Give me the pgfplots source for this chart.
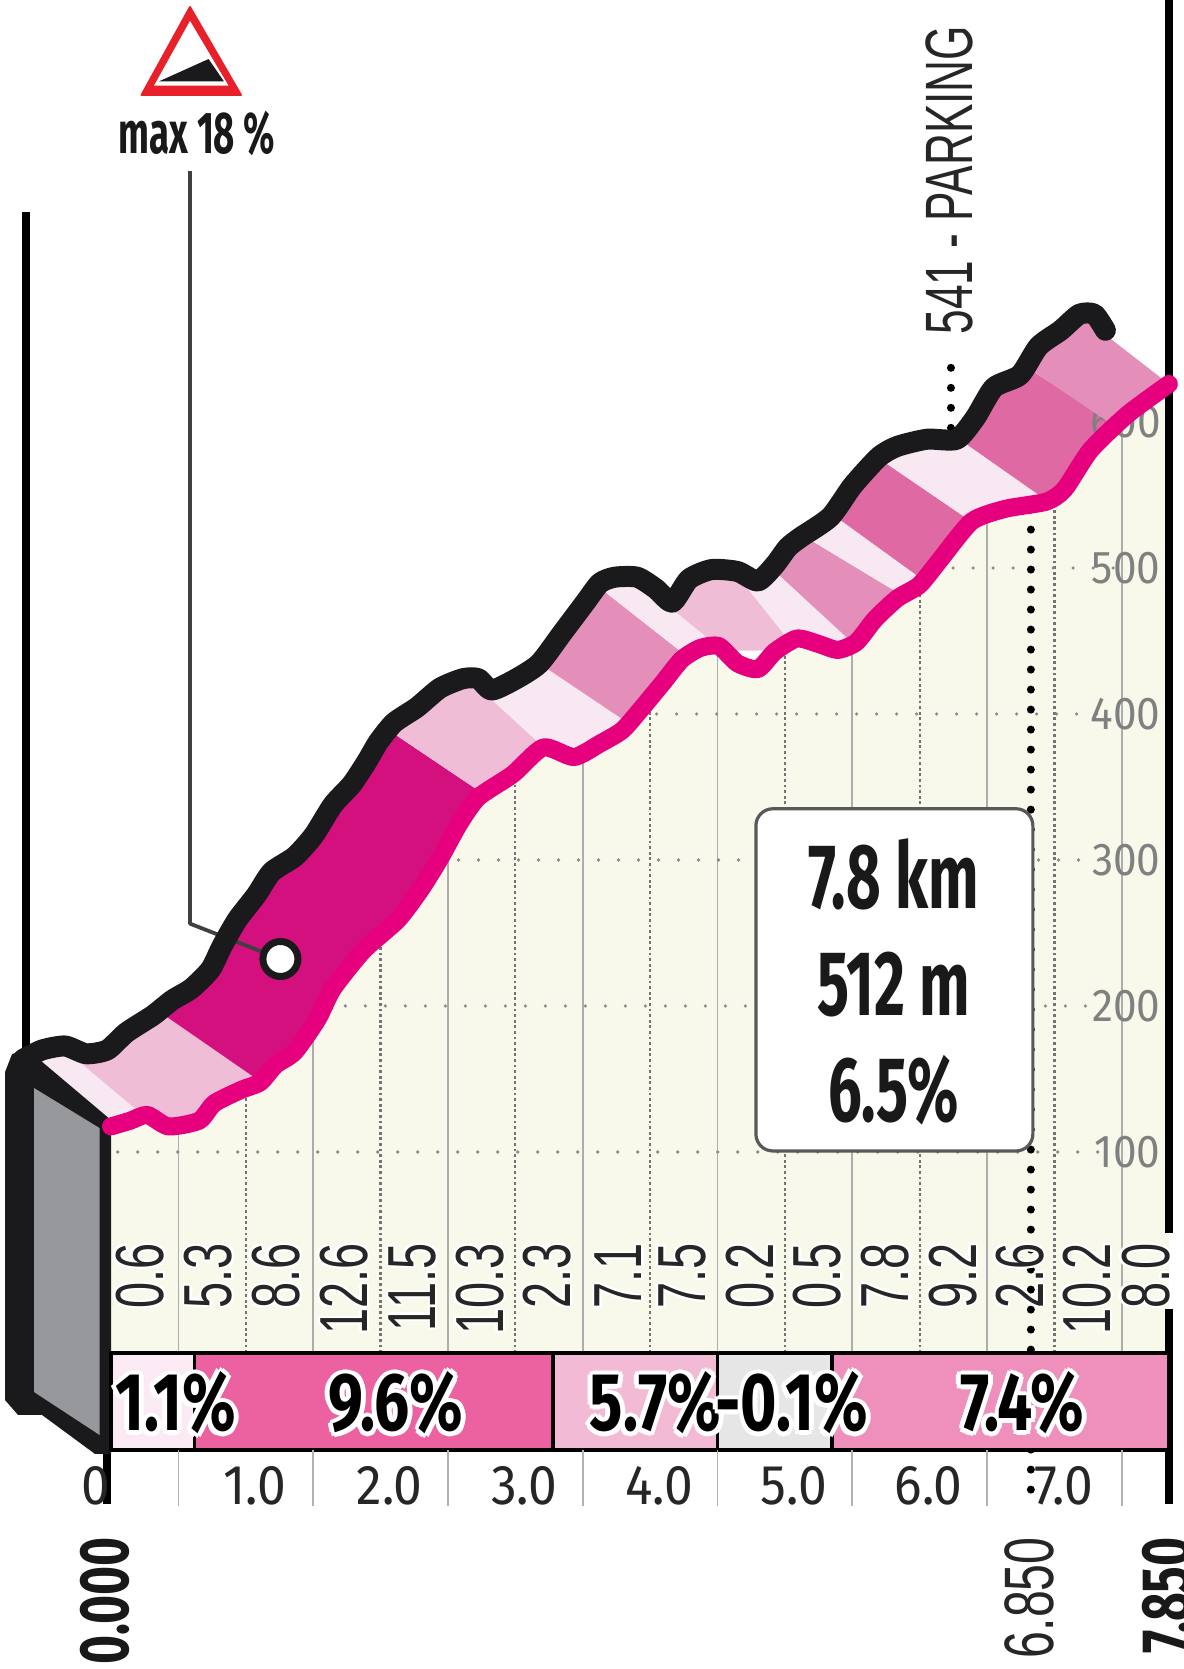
\documentclass[border=0pt]{standalone}
\usepackage{pgfplots}
\usepackage{pgfplotstable}
\usepackage{fontspec}
\pgfplotsset{compat=1.18}
\setmainfont{Fira Sans}
\newfontfamily\cond[FakeStretch=0.65]{Fira Sans}
\newfontfamily\condn[FakeStretch=0.62]{Fira Sans}
\newfontfamily\condw[FakeStretch=0.76]{Fira Sans}
\newfontfamily\condm[FakeStretch=0.71]{Fira Sans}
\newfontfamily\tickf[FakeStretch=0.92]{Fira Sans}
\newfontfamily\narrowf[FakeStretch=0.69]{Liberation Sans}
\newfontfamily\parkf[FakeStretch=0.66]{Liberation Sans}
\definecolor{cream}{HTML}{F8F9EA}
\definecolor{wp}{HTML}{F8E8F2}
\definecolor{lp}{HTML}{F0BDD6}
\definecolor{mp}{HTML}{E48FBA}
\definecolor{dp}{HTML}{DF6AA3}
\definecolor{vp}{HTML}{D4107F}
\definecolor{pinkline}{HTML}{E6007E}
\definecolor{blackline}{HTML}{1A1A1C}
\definecolor{greyq}{HTML}{97989C}
\definecolor{barA}{HTML}{FBE9F3}
\definecolor{barB}{HTML}{EC619F}
\definecolor{barC}{HTML}{F3BAD6}
\definecolor{barD}{HTML}{E6E6E6}
\definecolor{barE}{HTML}{EF8FBB}
\definecolor{redtri}{HTML}{E8202A}
\pgfplotstableread{
km m
0 117.5
0.142 121.4
0.269 125.4
0.426 117.5
0.653 121.4
0.766 133.3
0.965 142.5
1.107 147.7
1.220 159.5
1.363 168.6
1.533 191.0
1.647 211.9
1.874 238.1
2.129 259.1
2.300 280.1
2.441 301.0
2.583 324.7
2.725 342.9
2.981 358.7
3.208 377.1
3.435 370.5
3.628 379.7
3.793 388.8
3.931 403.2
4.096 421.6
4.234 437.3
4.372 445.2
4.510 446.5
4.648 434.7
4.800 430.8
4.924 442.6
5.090 451.7
5.255 447.8
5.393 443.9
5.530 449.1
5.668 464.9
5.834 479.2
5.999 488.4
6.150 505.5
6.386 531.9
6.634 540.5
6.938 545.4
7.075 554.0
7.268 580.8
7.544 605.3
7.849 626.0
}\front
\pgfplotstableread{
km m
-0.653 163.4
-0.511 169.9
-0.341 172.6
-0.185 167.3
-0.028 169.9
0.114 181.8
0.312 193.6
0.454 204.0
0.596 211.9
0.738 225.0
0.823 240.8
0.937 259.1
1.079 276.1
1.192 291.8
1.363 302.3
1.504 316.8
1.646 337.7
1.789 352.1
1.902 368
1.985 381.0
2.101 394.1
2.271 404.6
2.441 417.7
2.612 424.2
2.725 424.2
2.825 416.4
3.009 424.2
3.179 434.7
3.350 455.7
3.520 476.6
3.628 489.7
3.738 493.7
3.904 493.7
4.042 485.8
4.165 476.6
4.289 492.4
4.455 498.9
4.648 497.6
4.800 491.1
4.924 502
5.021 514
5.117 521
5.337 535
5.503 556.4
5.697 576.0
5.834 583.3
6.055 588.2
6.275 588.2
6.413 602.9
6.551 623.6
6.744 632.2
6.882 651.8
7.047 662.8
7.185 673.8
7.296 673.8
7.378 662.8
}\back
\newcommand{\band}[9]{\addplot[fill=#1,draw=none,forget plot] coordinates {(#2,#3)(#4,#5)(#6,#7)(#8,#9)} -- cycle;}
\newcommand{\halo}[4]{%
\node[#1,white,xshift=#3,yshift=0pt] at (#2) {#4};
\node[#1,white,xshift=-#3,yshift=0pt] at (#2) {#4};
\node[#1,white,xshift=0pt,yshift=#3] at (#2) {#4};
\node[#1,white,xshift=0pt,yshift=-#3] at (#2) {#4};
\node[#1,white,xshift=0.7*#3,yshift=0.7*#3] at (#2) {#4};
\node[#1,white,xshift=-0.7*#3,yshift=0.7*#3] at (#2) {#4};
\node[#1,white,xshift=0.7*#3,yshift=-0.7*#3] at (#2) {#4};
\node[#1,white,xshift=-0.7*#3,yshift=-0.7*#3] at (#2) {#4};
\node[#1] at (#2) {#4};}
\newcommand{\seg}[2]{\halo{rotate=90,anchor=east,inner sep=0pt,text=black!85,font=\narrowf\fontsize{34}{34}\selectfont}{axis cs:#1,37.7}{1.2pt}{#2}}
\newcommand{\barlab}[2]{\halo{anchor=center,inner sep=0pt,font=\condw\bfseries\fontsize{41}{41}\selectfont}{axis cs:#1,-71.9}{2.4pt}{#2}}
\begin{document}
\begin{tikzpicture}
\path[use as bounding box] (0,0) rectangle (591.5pt,834.5pt);
\begin{axis}[
  at={(55.5pt,109.5pt)},anchor=south west,
  scale only axis,width=529pt,height=725pt,
  xmin=0,xmax=7.85,ymin=-104.11,ymax=889.04,
  clip=false,
  axis on top=true,
  axis line style={draw=none},
  xtick={1,2,3,4,5,6,7},
  minor xtick={0.5,1.5,2.5,3.5,4.5,5.5,6.5,7.5},
  xticklabels={1.0,2.0,3.0,4.0,5.0,6.0,7.0},
  xtick pos=bottom,tick align=outside,
  major tick length=0pt,minor tick length=28pt,
  minor x tick style={draw=black!30,line width=0.8pt},
  xticklabel style={anchor=center,xshift=4.5pt,yshift=-18pt,font=\tickf\fontsize{28}{28}\selectfont,text=black!85},
  ytick={100,200,300,400,500},
  yticklabel pos=right,
  ytick style={draw=none},
  yticklabel style={anchor=east,xshift=-0.8pt,font=\tickf\fontsize{23}{23}\selectfont,text=black!50},
  /pgf/number format/assume math mode=true,
]
% gradient bands of the ribbon (overflow is masked below)
\band{wp}{-0.809}{174.7}{-0.356}{171.2}{0.386}{113.7}{0.185}{104.8}
\band{lp}{-0.356}{171.2}{0.326}{198.2}{1.150}{145.6}{0.386}{113.7}
\band{vp}{0.326}{198.2}{1.981}{393.8}{2.864}{339.0}{1.150}{145.6}
\band{lp}{1.981}{393.8}{2.641}{425.3}{3.323}{367.8}{2.864}{339.0}
\band{wp}{2.641}{425.3}{3.108}{439.0}{3.924}{388.4}{3.323}{367.8}
\band{mp}{3.108}{439.0}{3.590}{489.0}{4.384}{431.5}{3.924}{388.4}
\band{wp}{3.590}{489.0}{3.924}{489.7}{4.547}{443.2}{4.384}{431.5}
\band{lp}{3.924}{489.7}{4.644}{495.2}{5.089}{443.8}{4.547}{443.2}
\band{wp}{4.644}{495.2}{4.844}{504.8}{5.616}{439.0}{5.089}{443.8}
\band{mp}{4.844}{504.8}{5.067}{526.0}{5.927}{478.1}{5.616}{439.0}
\band{wp}{5.067}{526.0}{5.267}{542.5}{6.098}{487.0}{5.927}{478.1}
\band{dp}{5.267}{542.5}{5.682}{576.0}{6.476}{526.0}{6.098}{487.0}
\band{wp}{5.682}{576.0}{6.239}{591.8}{7.033}{540.4}{6.476}{526.0}
\band{dp}{6.239}{591.8}{6.736}{640.8}{7.530}{593.8}{7.033}{540.4}
% masks
\addplot[fill=white,draw=none,forget plot] table[x=km,y=m] {\back} -- (axis cs:7.419,656.8) -- (axis cs:7.849,628) -- (axis cs:7.9525,628) -- (axis cs:7.9525,889) -- (axis cs:-0.8234,889) -- (axis cs:-0.8234,163.4) -- cycle;
\addplot[fill=cream,draw=none,forget plot] table[x=km,y=m] {\front} -- (axis cs:7.849,-37.7) -- (axis cs:0,-37.7) -- cycle;
% grid: half-km solid
\addplot[black!32,line width=0.8pt,forget plot] coordinates {(0.5,-37.7)(0.5,119)};
\addplot[black!32,line width=0.8pt,forget plot] coordinates {(1.5,-37.7)(1.5,187)};
\addplot[black!32,line width=0.8pt,forget plot] coordinates {(2.5,-37.7)(2.5,310)};
\addplot[black!32,line width=0.8pt,forget plot] coordinates {(3.5,-37.7)(3.5,373)};
\addplot[black!32,line width=0.8pt,forget plot] coordinates {(4.5,-37.7)(4.5,446)};
\addplot[black!32,line width=0.8pt,forget plot] coordinates {(5.5,-37.7)(5.5,448)};
\addplot[black!32,line width=0.8pt,forget plot] coordinates {(6.5,-37.7)(6.5,536)};
\addplot[black!32,line width=0.8pt,forget plot] coordinates {(7.5,-37.7)(7.5,601)};
% grid: km dotted
\addplot[black!55,line width=1.1pt,dash pattern=on 1.4pt off 1.4pt,forget plot] coordinates {(1,-37.7)(1,144)};
\addplot[black!55,line width=1.1pt,dash pattern=on 1.4pt off 1.4pt,forget plot] coordinates {(2,-37.7)(2,248)};
\addplot[black!55,line width=1.1pt,dash pattern=on 1.4pt off 1.4pt,forget plot] coordinates {(3,-37.7)(3,360)};
\addplot[black!55,line width=1.1pt,dash pattern=on 1.4pt off 1.4pt,forget plot] coordinates {(4,-37.7)(4,411)};
\addplot[black!55,line width=1.1pt,dash pattern=on 1.4pt off 1.4pt,forget plot] coordinates {(5,-37.7)(5,447)};
\addplot[black!55,line width=1.1pt,dash pattern=on 1.4pt off 1.4pt,forget plot] coordinates {(6,-37.7)(6,488)};
\addplot[black!55,line width=1.1pt,dash pattern=on 1.4pt off 1.4pt,forget plot] coordinates {(7,-37.7)(7,549)};
% horizontal dots
\addplot[black!45,line width=1.8pt,line cap=round,dash pattern=on 0pt off 10pt,forget plot] coordinates {(0.05,100)(7.45,100)};
\addplot[black!45,line width=1.8pt,line cap=round,dash pattern=on 0pt off 10pt,forget plot] coordinates {(1.59,200)(7.45,200)};
\addplot[black!45,line width=1.8pt,line cap=round,dash pattern=on 0pt off 10pt,forget plot] coordinates {(2.43,300)(7.45,300)};
\addplot[black!45,line width=1.8pt,line cap=round,dash pattern=on 0pt off 10pt,forget plot] coordinates {(3.9,400)(7.45,400)};
\addplot[black!45,line width=1.8pt,line cap=round,dash pattern=on 0pt off 10pt,forget plot] coordinates {(6.1,500)(7.45,500)};
\node[anchor=east,inner sep=0pt,font=\tickf\fontsize{23}{23}\selectfont,text=black!50] at ([xshift=-4pt]axis cs:7.85,600) {600};
% last band, over the 600
\addplot[fill=mp,draw=none,forget plot] coordinates {(6.818,636.3)(7.226,673.3)(7.419,656.8)(7.849,626.0)(7.544,605.5)(7.433,597.9)} -- cycle;
% vertical rules
\addplot[black,line width=4pt,forget plot] coordinates {(-0.631,743.8)(-0.631,163)};
\addplot[black,line width=3.75pt,forget plot] coordinates {(7.85,889)(7.85,44.5)};
\addplot[black,line width=3.75pt,forget plot] coordinates {(7.85,-7.5)(7.85,-141.1)};
\addplot[black,line width=4pt,forget plot] coordinates {(-0.03,-100)(-0.03,-141.1)};
% km 6.85 dotted, front and back
\addplot[black,line width=4pt,line cap=round,dash pattern=on 0pt off 10pt,forget plot] coordinates {(6.825,540)(6.825,-141)};
\addplot[black,line width=4pt,line cap=round,dash pattern=on 0pt off 10pt,forget plot] coordinates {(6.232,596)(6.232,640)};
% max gradient callout
\addplot[black!75,line width=1.9pt,line join=round,forget plot] coordinates {(0.586,771.9)(0.586,256.4)(1.257,232.2)};
% end column
\addplot[fill=blackline,draw=none,forget plot] coordinates {(-0.786,154.8)(-0.734,167.1)(-0.616,169.9)(0,121.9)(0,-106.8)(-0.119,-106.8)(-0.512,-80.1)(-0.690,-80.1)(-0.786,-69.9)} -- cycle;
\addplot[fill=greyq,draw=none,forget plot] coordinates {(-0.571,143.8)(-0.085,116.4)(-0.085,-93.8)(-0.571,-64.4)} -- cycle;
% the two edges of the profile
\addplot[blackline,line width=10.5pt,line join=round,line cap=round,smooth,tension=0.4,forget plot] table[x=km,y=m] {\back};
\addplot[pinkline,line width=9pt,line join=round,line cap=round,smooth,tension=0.4,forget plot] table[x=km,y=m] {\front};
\addplot[only marks,mark=*,mark size=8.75pt,mark options={fill=white,draw=blackline,line width=3.5pt},forget plot] coordinates {(1.257,232.2)};
% gradient bar
\addplot[fill=barA,draw=black,line width=1.6pt,forget plot] coordinates {(0,-37.7)(0.62,-37.7)(0.62,-104.1)(0,-104.1)} -- cycle;
\addplot[fill=barB,draw=black,line width=1.6pt,forget plot] coordinates {(0.62,-37.7)(3.28,-37.7)(3.28,-104.1)(0.62,-104.1)} -- cycle;
\addplot[fill=barC,draw=black,line width=1.6pt,forget plot] coordinates {(3.28,-37.7)(4.5,-37.7)(4.5,-104.1)(3.28,-104.1)} -- cycle;
\addplot[fill=barD,draw=black,line width=1.6pt,forget plot] coordinates {(4.5,-37.7)(5.35,-37.7)(5.35,-104.1)(4.5,-104.1)} -- cycle;
\addplot[fill=barE,draw=black,line width=1.6pt,forget plot] coordinates {(5.35,-37.7)(7.85,-37.7)(7.85,-104.1)(5.35,-104.1)} -- cycle;
\barlab{0.48}{1.1\%}
\barlab{2.115}{9.6\%}
\barlab{4.04}{5.7\%}
\barlab{5.05}{-0.1\%}
\barlab{6.76}{7.4\%}
% km gradients
\seg{0.215}{0.6}\seg{0.724}{5.3}\seg{1.224}{8.6}\seg{1.728}{12.6}
\seg{2.237}{11.5}\seg{2.737}{10.3}\seg{3.234}{2.3}\seg{3.766}{7.1}
\seg{4.240}{7.5}\seg{4.745}{0.2}\seg{5.241}{0.5}\seg{5.746}{7.8}
\seg{6.246}{9.2}\seg{6.743}{2.6}\seg{7.240}{10.2}\seg{7.678}{8.0}
% summary box
\draw[fill=white,draw=black!65,line width=1.6pt,rounded corners=8.5pt] (axis cs:4.785,335.1) rectangle (axis cs:6.840,100.7);
\node[font=\cond\bfseries\fontsize{46}{46}\selectfont,inner sep=0pt,text=black!90] at (axis cs:5.807,290) {7.8 km};
\node[font=\cond\bfseries\fontsize{46}{46}\selectfont,inner sep=0pt,text=black!90] at (axis cs:5.807,215) {512 m};
\node[font=\cond\bfseries\fontsize{46}{46}\selectfont,inner sep=0pt,text=black!90] at (axis cs:5.807,142) {6.5\%};
% labels
\node[rotate=90,anchor=west,inner sep=0pt,text=black!85,font=\parkf\fontsize{33.5}{33.5}\selectfont] at (axis cs:6.220,659.6) {541 - PARKING};
\node[anchor=center,inner sep=0pt,text=black!85,font=\tickf\fontsize{28}{28}\selectfont] at ([xshift=-7.5pt,yshift=-18pt]axis cs:0,-104.11) {0};
\node[rotate=90,anchor=east,inner sep=0pt,text=black!90,font=\condm\bfseries\fontsize{35}{35}\selectfont] at (axis cs:-0.045,-163.7) {0.000};
\node[rotate=90,anchor=east,inner sep=0pt,text=black!85,font=\narrowf\fontsize{35}{35}\selectfont] at (axis cs:6.813,-163.7) {6.850};
\node[rotate=90,anchor=east,inner sep=0pt,text=black!90,font=\condm\bfseries\fontsize{35}{35}\selectfont] at (axis cs:7.834,-163.7) {7.850};
% warning triangle
\addplot[fill=redtri,draw=redtri,line width=1pt,line join=round,forget plot] coordinates {(0.586,884.2)(0.227,824)(0.964,824)} -- cycle;
\addplot[fill=white,draw=none,forget plot] coordinates {(0.586,874.7)(0.319,830.3)(0.872,830.3)} -- cycle;
\addplot[fill=blackline,draw=none,forget plot] coordinates {(0.356,833.3)(0.724,848.6)(0.838,833.3)} -- cycle;
\node[font=\condn\bfseries\fontsize{29.5}{29.5}\selectfont,inner sep=0pt,text=black!90] at (axis cs:0.638,797.3) {max 18 \%};
\end{axis}
\end{tikzpicture}
\end{document}
